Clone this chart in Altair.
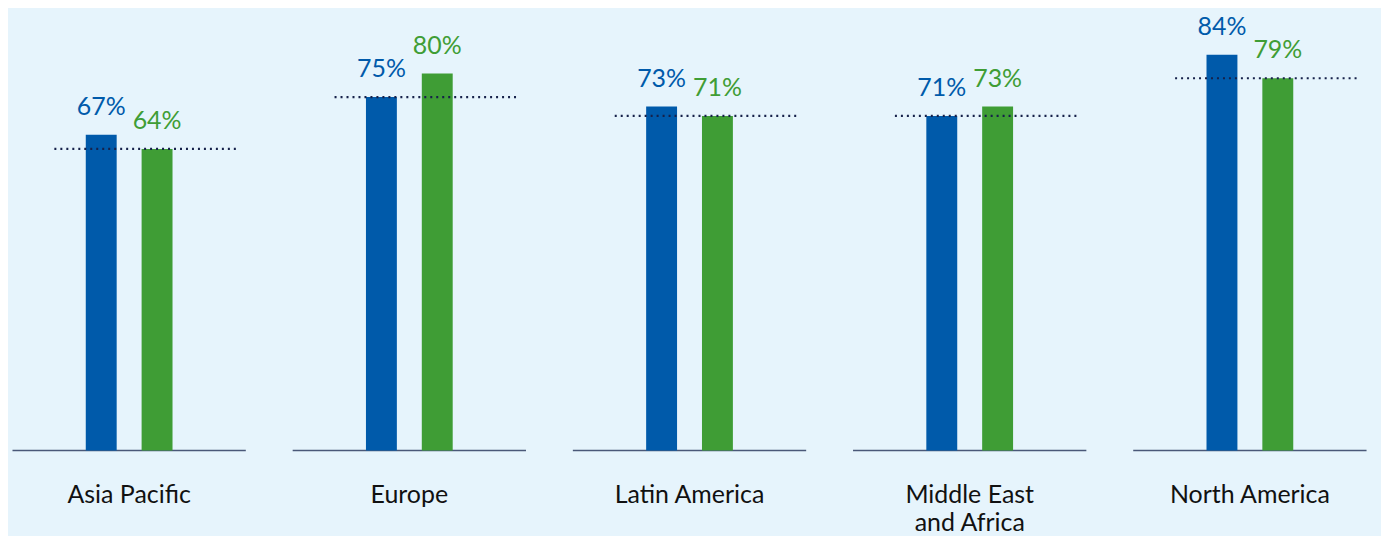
import altair as alt
import pandas as pd

regions = ["Asia Pacific", "Europe", "Latin America", "Middle East and Africa", "North America"]
blue_vals = [67, 75, 73, 71, 84]
green_vals = [64, 80, 71, 73, 79]
dotted_vals = [64, 75, 71, 71, 79]

BLUE = "#005AAA"
GREEN = "#3F9D35"
DOT = "#16214A"
BG = "#E6F4FC"
FONT = "Lato"

df = pd.DataFrame({
    "region": regions,
    "blue": blue_vals,
    "green": green_vals,
    "dotted": dotted_vals,
})
df["blue_label"] = df["blue"].astype(str) + "%"
df["green_label"] = df["green"].astype(str) + "%"
df["zero"] = 0

x_enc = alt.X(
    "region:N",
    sort=regions,
    scale=alt.Scale(paddingInner=48 / 281, paddingOuter=0),
    axis=alt.Axis(
        title=None, domain=False, ticks=False, tickSize=0,
        labelAngle=0, labelFont=FONT, labelFontSize=25, labelColor="#111111",
        labelPadding=32, labelLimit=0, labelLineHeight=28,
        labelExpr="datum.label == 'Middle East and Africa' ? ['Middle East', 'and Africa'] : datum.label",
    ),
)
y_scale = alt.Scale(domain=[0, 93.75], nice=False)

base = alt.Chart(df)

baseline = base.mark_rule(color="#4A5878", strokeWidth=1.5, xOffset=-117, x2Offset=117).encode(
    x=x_enc, x2="region:N",
    y=alt.Y("zero:Q", scale=y_scale, axis=None),
)

bar_blue = base.mark_bar(width=31, xOffset=-28, color=BLUE).encode(
    x=x_enc, y=alt.Y("blue:Q", scale=y_scale, axis=None),
)
bar_green = base.mark_bar(width=31, xOffset=28, color=GREEN).encode(
    x=x_enc, y=alt.Y("green:Q", scale=y_scale, axis=None),
)

dotted = base.mark_rule(color=DOT, strokeWidth=2.2, strokeDash=[2, 4], xOffset=-75, x2Offset=110).encode(
    x=x_enc, x2="region:N",
    y=alt.Y("dotted:Q", scale=y_scale, axis=None),
)

txt_blue = base.mark_text(font=FONT, fontSize=25, color=BLUE, xOffset=-28, dy=-20,
                          baseline="alphabetic", align="center").encode(
    x=x_enc, y=alt.Y("blue:Q", scale=y_scale, axis=None), text="blue_label:N",
)
txt_green = base.mark_text(font=FONT, fontSize=25, color=GREEN, xOffset=28, dy=-20,
                           baseline="alphabetic", align="center").encode(
    x=x_enc, y=alt.Y("green:Q", scale=y_scale, axis=None), text="green_label:N",
)

chart = alt.layer(baseline, bar_blue, bar_green, dotted, txt_blue, txt_green).properties(
    width=1357, height=443,
    background=BG,
    padding={"left": 3, "top": 0, "right": 13, "bottom": 0},
).configure_view(stroke=None)

chart.save("out.html", embed_options={"renderer": "svg", "actions": False})
